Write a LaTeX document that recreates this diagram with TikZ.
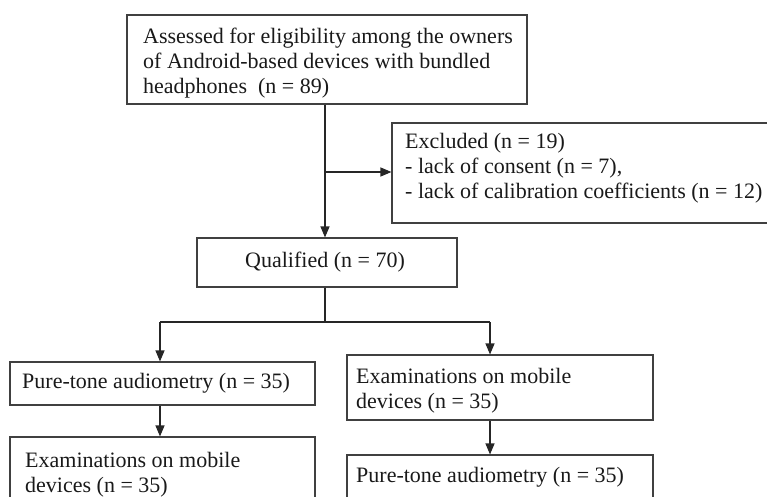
\documentclass[tikz,border=0pt]{standalone}
\usepackage{fontspec}
\setmainfont{Liberation Serif}
\usetikzlibrary{arrows.meta}
\begin{document}
\begin{tikzpicture}[x=1pt,y={(0pt,-1pt)},
  box/.style={draw=black!75,line width=1.1pt,rectangle,inner sep=0pt},
  txt/.style={inner sep=0pt,align=left,anchor=north west,font=\fontsize{22}{25}\selectfont,text=black!90},
  conn/.style={draw=black!85,line width=1.1pt},
  arr/.style={conn,-{Triangle[length=11pt,width=9pt]}}]
\clip (0,0) rectangle (767,497);
% boxes
\node[box,minimum width=400pt,minimum height=89pt] (top) at (327,59.5) {};
\node[box,minimum width=383pt,minimum height=100pt] (excl) at (583.5,173) {};
\node[box,minimum width=260pt,minimum height=49pt] (qual) at (327,262.5) {};
\node[box,minimum width=305pt,minimum height=43pt] (lmid) at (162.5,383.5) {};
\node[box,minimum width=306pt,minimum height=65pt] (rmid) at (500,387.5) {};
\node[box,minimum width=305pt,minimum height=80pt] (lbot) at (162.5,477) {};
\node[box,minimum width=306pt,minimum height=80pt] (rbot) at (500,495) {};
% texts
\node[txt] (ttop) at (143,28) {Assessed for eligibility among the owners\\of Android-based devices with bundled\\headphones\ \ (n = 89)};
\node[txt] (texcl) at (405,133) {Excluded (n = 19)\\- lack of consent (n = 7),\\- lack of calibration coefficients (n = 12)};
\node[txt,anchor=center] (tqual) at (325,262) {Qualified (n = 70)};
\node[txt,anchor=west] (tlmid) at (22,383.5) {Pure-tone audiometry (n = 35)};
\node[txt] (trmid) at (356,368) {Examinations on mobile\\devices (n = 35)};
\node[txt] (tlbot) at (25,452) {Examinations on mobile\\devices (n = 35)};
\node[txt] (trbot) at (356,467) {Pure-tone audiometry (n = 35)};
% connectors
\draw[arr] (top.south -| 325,0) -- (qual.north -| 325,0);
\coordinate (split) at (325,172);
\draw[arr] (split) -- (split -| excl.west);
\coordinate (fork) at (325,322);
\coordinate (forkl) at (160,322);
\coordinate (forkr) at (490,322);
\draw[conn] (qual.south -| fork) -- (fork);
\draw[conn] (forkl) -- (forkr);
\draw[arr] (forkl) -- (forkl |- lmid.north);
\draw[arr] (forkr) -- (forkr |- rmid.north);
\draw[arr] (lmid.south -| forkl) -- (lbot.north -| forkl);
\draw[arr] (rmid.south -| forkr) -- (rbot.north -| forkr);
\end{tikzpicture}
\end{document}
